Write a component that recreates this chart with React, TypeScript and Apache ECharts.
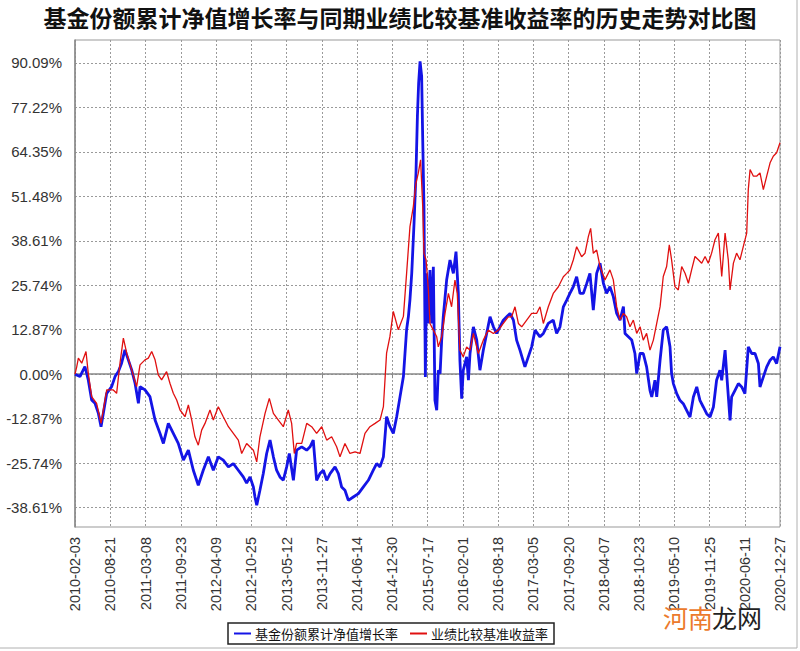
import React, { useEffect, useRef } from 'react';
import * as echarts from 'echarts';

const chartTitle = '基金份额累计净值增长率与同期业绩比较基准收益率的历史走势对比图';
const seriesNames = ['基金份额累计净值增长率', '业绩比较基准收益率'];
const xTickLabels = [
  '2010-02-03', '2010-08-21', '2011-03-08', '2011-09-23', '2012-04-09', '2012-10-25',
  '2013-05-12', '2013-11-27', '2014-06-14', '2014-12-30', '2015-07-17', '2016-02-01',
  '2016-08-18', '2017-03-05', '2017-09-20', '2018-04-07', '2018-10-23', '2019-05-10',
  '2019-11-25', '2020-06-11', '2020-12-27',
];
const tickStepDays = 199;
const yTickValues = [-38.61, -25.74, -12.87, 0, 12.87, 25.74, 38.61, 51.48, 64.35, 77.22, 90.09];
const yMin = -44.2;
const yMax = 96.7;

// [days since 2010-02-03, cumulative return %]
const fundReturn: [number, number][] = [
  [0, 0], [28, -0.68], [56, 2.23], [75, -1.65], [94, -7.45], [113, -8.42], [132, -11.32], [147, -15.19],
  [160, -11.32], [179, -5.52], [207, -3.58], [226, -0.68], [245, 0.77], [263, 3.19], [282, 7.06], [301, 4.16],
  [320, 1.26], [339, -2.61], [358, -8.42], [367, -3.58], [395, -4.55], [423, -6.48], [452, -13.26], [480, -17.13],
  [499, -20.03], [527, -14.23], [555, -17.13], [583, -20.03], [612, -24.87], [640, -21.97], [668, -27.77], [696, -32.13],
  [724, -27.77], [753, -23.9], [781, -27.77], [809, -23.9], [837, -24.87], [866, -26.81], [894, -25.84], [922, -27.77],
  [950, -29.71], [969, -31.5], [988, -29.71], [1007, -32.61], [1016, -35.52], [1026, -37.93], [1044, -33.58], [1063, -28.74],
  [1082, -22.93], [1101, -19.06], [1120, -23.9], [1138, -27.77], [1157, -29.71], [1176, -30.68], [1195, -26.81], [1210, -22.93],
  [1233, -30.68], [1251, -21.97], [1280, -21.0], [1308, -21.97], [1327, -21.0], [1345, -19.06], [1364, -30.68], [1383, -28.74],
  [1402, -27.77], [1421, -30.68], [1440, -28.74], [1468, -26.81], [1487, -28.74], [1505, -32.61], [1524, -33.58], [1543, -36.48],
  [1571, -35.52], [1600, -34.55], [1628, -32.61], [1656, -30.68], [1684, -27.77], [1703, -25.84], [1722, -26.81], [1741, -23.9],
  [1759, -12.29], [1778, -15.19], [1797, -17.13], [1816, -12.29], [1835, -6.48], [1854, -0.68], [1872, 12.87], [1882, 16.62],
  [1891, 21.58], [1901, 29.18], [1914, 43.67], [1925, 58.17], [1933, 74.59], [1940, 84.25], [1948, 90.53], [1957, 86.18],
  [1963, 67.83], [1970, 48.5], [1978, -0.77], [1985, 29.18], [1995, 14.69], [2004, 30.15], [2014, 14.69], [2023, 31.11],
  [2032, -7.54], [2042, -10.43], [2051, 1.16], [2061, 0.19], [2070, 9.86], [2079, 16.62], [2098, 27.25], [2117, 33.04],
  [2136, 29.18], [2151, 35.46], [2164, 23.38], [2173, 4.06], [2183, -7.05], [2192, 1.16], [2211, 5.02], [2221, -1.74],
  [2230, 5.99], [2249, 13.72], [2268, 9.86], [2286, 1.16], [2305, 6.96], [2324, 11.79], [2343, 16.62], [2362, 13.72],
  [2380, 11.79], [2399, 13.72], [2418, 15.65], [2437, 16.62], [2456, 17.58], [2475, 15.65], [2493, 9.86], [2512, 6.96],
  [2540, 2.13], [2559, 5.02], [2578, 7.92], [2597, 12.75], [2625, 10.82], [2644, 11.79], [2672, 14.69], [2700, 15.65],
  [2719, 11.79], [2738, 13.72], [2757, 19.52], [2776, 21.45], [2794, 23.38], [2813, 25.31], [2832, 28.21], [2851, 23.38],
  [2870, 23.38], [2889, 26.28], [2907, 29.18], [2926, 18.55], [2945, 29.18], [2964, 32.13], [2983, 26.32], [3001, 23.42],
  [3020, 25.35], [3039, 22.45], [3058, 17.61], [3077, 15.68], [3096, 19.55], [3105, 11.81], [3124, 10.84], [3143, 9.87],
  [3161, 6.0], [3171, 0.19], [3190, 6.0], [3208, 6.0], [3227, 2.13], [3246, -4.65], [3256, -6.58], [3274, -1.74],
  [3284, -6.58], [3303, 4.06], [3321, 12.77], [3340, 13.74], [3359, 7.94], [3368, 0.19], [3378, -2.71], [3397, -5.61],
  [3415, -7.55], [3434, -8.52], [3453, -10.45], [3472, -12.39], [3491, -6.58], [3510, -3.68], [3528, -7.55], [3547, -9.48],
  [3566, -11.42], [3585, -12.39], [3604, -9.48], [3622, -1.74], [3641, 1.16], [3651, -1.74], [3670, 6.97], [3679, 0.19],
  [3698, -13.35], [3707, -6.58], [3726, -4.65], [3745, -2.71], [3764, -3.68], [3782, -5.61], [3801, 7.94], [3820, 6.0],
  [3839, 6.0], [3858, 3.1], [3867, -3.68], [3886, -0.77], [3905, 2.13], [3924, 4.06], [3942, 5.03], [3961, 3.1],
  [3980, 7.94],
];

const benchmarkReturn: [number, number][] = [
  [0, 0], [10, 2.23], [19, 4.65], [38, 3.19], [62, 6.58], [75, 0.29], [94, -6.48], [122, -8.42],
  [147, -14.23], [179, -4.55], [216, -4.55], [235, -5.52], [254, 3.19], [273, 10.45], [292, 6.1], [320, 1.26],
  [348, -3.58], [367, 2.71], [395, 4.16], [414, 4.65], [433, 6.58], [452, 4.16], [470, -0.19], [489, -1.65],
  [517, 0.77], [536, -2.61], [555, -5.52], [574, -7.45], [593, -10.35], [621, -12.29], [640, -8.9], [659, -13.26],
  [677, -18.1], [696, -20.52], [715, -16.16], [734, -14.23], [762, -10.35], [781, -13.26], [809, -9.39], [837, -12.29],
  [866, -15.19], [894, -17.13], [922, -19.06], [941, -22.93], [969, -20.03], [1007, -21.97], [1026, -25.35], [1044, -18.1],
  [1073, -11.32], [1097, -6.97], [1120, -11.32], [1148, -13.26], [1176, -15.19], [1204, -10.35], [1223, -14.23], [1238, -22.93],
  [1251, -20.03], [1280, -20.03], [1308, -14.23], [1336, -15.19], [1364, -17.13], [1393, -15.19], [1421, -19.06], [1449, -18.1],
  [1477, -21.0], [1496, -23.9], [1524, -20.03], [1552, -22.93], [1581, -22.45], [1609, -22.93], [1637, -17.13], [1665, -15.19],
  [1694, -14.23], [1722, -13.26], [1741, -9.39], [1759, 6.1], [1778, 10.94], [1797, 18.19], [1825, 12.87], [1854, 16.74],
  [1872, 29.18], [1891, 42.71], [1910, 48.5], [1925, 55.27], [1938, 58.17], [1951, 62.03], [1963, 48.5], [1970, 34.98],
  [1982, 33.04], [1995, 24.35], [2004, 14.69], [2023, 12.75], [2042, 10.82], [2051, 7.92], [2070, 10.82], [2089, 17.58],
  [2108, 23.38], [2126, 19.52], [2145, 27.25], [2158, 23.38], [2173, 6.96], [2192, 5.02], [2211, 7.92], [2230, 6.96],
  [2249, 11.79], [2277, 5.99], [2305, 9.86], [2333, 12.75], [2362, 11.79], [2390, 12.75], [2418, 14.69], [2446, 16.62],
  [2465, 16.62], [2484, 19.52], [2503, 14.69], [2522, 13.72], [2550, 15.65], [2578, 17.58], [2606, 17.58], [2625, 19.52],
  [2644, 14.69], [2672, 19.52], [2700, 23.38], [2729, 25.31], [2757, 28.21], [2776, 29.18], [2794, 30.15], [2813, 33.04],
  [2832, 36.9], [2860, 34.01], [2879, 34.98], [2898, 39.81], [2911, 42.22], [2926, 34.98], [2945, 35.94], [2964, 31.16],
  [2992, 27.29], [3020, 30.19], [3039, 27.29], [3058, 19.55], [3077, 15.68], [3096, 17.61], [3114, 16.64], [3133, 13.74],
  [3152, 15.68], [3171, 11.81], [3190, 13.74], [3208, 9.87], [3227, 11.81], [3246, 6.97], [3265, 9.87], [3284, 14.71],
  [3303, 19.55], [3321, 28.26], [3340, 31.16], [3355, 37.45], [3368, 33.1], [3387, 25.35], [3406, 24.39], [3425, 31.16],
  [3444, 29.22], [3463, 26.32], [3481, 30.19], [3500, 34.06], [3519, 33.1], [3538, 32.13], [3557, 34.06], [3575, 32.13],
  [3594, 35.03], [3613, 38.9], [3632, 40.84], [3651, 28.26], [3670, 40.84], [3688, 33.1], [3698, 24.39], [3717, 32.13],
  [3735, 35.03], [3754, 33.1], [3773, 36.97], [3792, 40.84], [3801, 53.42], [3811, 59.22], [3830, 57.29], [3848, 57.29],
  [3867, 58.26], [3886, 53.42], [3905, 57.29], [3924, 61.16], [3942, 63.09], [3961, 64.06], [3980, 66.97],
];

const watermarkParts = ['河南', '龙网'];

export default function App() {
  const ref = useRef<HTMLDivElement>(null);

  useEffect(() => {
    if (!ref.current) return;
    const chart = echarts.init(ref.current, null, { renderer: 'svg' });
    const axisFont = '"Liberation Sans", Arial, sans-serif';
    const cjkFont = '"Noto Sans CJK SC", sans-serif';
    chart.setOption({
      animation: false,
      backgroundColor: '#ffffff',
      title: {
        text: chartTitle,
        left: 'center',
        top: 0,
        textStyle: { fontFamily: cjkFont, fontWeight: 'bold', fontSize: 23, color: '#111' },
      },
      legend: {
        left: 228,
        top: 623,
        orient: 'horizontal',
        data: [
          { name: seriesNames[0], icon: 'rect' },
          { name: seriesNames[1], icon: 'rect' },
        ],
        itemWidth: 17,
        itemHeight: 2,
        itemGap: 12,
        padding: [4, 6],
        borderColor: '#222',
        borderWidth: 1.5,
        backgroundColor: '#fff',
        textStyle: { fontFamily: cjkFont, fontSize: 13, color: '#111', padding: [0, 0, 0, -1] },
      },
      grid: {
        left: 75,
        right: 20,
        top: 40,
        bottom: 124,
        show: true,
        borderColor: '#999',
        borderWidth: 1,
        backgroundColor: '#fff',
      },
      xAxis: {
        type: 'value',
        min: 0,
        max: tickStepDays * (xTickLabels.length - 1),
        interval: tickStepDays,
        offset: 5,
        axisLine: { show: true, lineStyle: { color: '#888', width: 1.5 } },
        axisTick: { show: true, length: 4, lineStyle: { color: '#888' } },
        axisLabel: {
          rotate: 90,
          fontSize: 14.5,
          fontFamily: axisFont,
          color: '#333',
          margin: 5,
          showMinLabel: true,
          showMaxLabel: true,
          formatter: (v: number) => xTickLabels[Math.round(v / tickStepDays)] ?? '',
        },
        splitLine: { show: true, lineStyle: { type: [2, 2], color: '#9a9a9a', width: 1 } },
      },
      yAxis: {
        type: 'value',
        min: yMin,
        max: yMax,
        offset: 4,
        axisLine: { show: true, lineStyle: { color: '#888', width: 1.5 } },
        axisTick: { show: false, customValues: yTickValues },
        axisLabel: {
          customValues: yTickValues,
          fontSize: 15,
          fontFamily: axisFont,
          color: '#333',
          margin: 9,
          formatter: (v: number) => v.toFixed(2) + '%',
        },
        splitLine: { show: true, lineStyle: { type: [2, 2], color: '#9a9a9a', width: 1 } },
      },
      graphic: [
        { type: 'line', shape: { x1: 797, y1: 0, x2: 797, y2: 648 }, style: { stroke: '#b0b0b0', lineWidth: 1 } },
        { type: 'line', shape: { x1: 0, y1: 648, x2: 797, y2: 648 }, style: { stroke: '#b0b0b0', lineWidth: 1 } },
        {
          type: 'text', x: 663, y: 617, z: 100,
          style: { text: watermarkParts[0], fill: '#ec7a2c', font: '25px "Noto Sans CJK SC"', verticalAlign: 'middle' },
        },
        {
          type: 'text', x: 712, y: 617, z: 100,
          style: { text: watermarkParts[1], fill: '#222', font: '25px "Noto Sans CJK SC"', verticalAlign: 'middle' },
        },
      ],
      series: [
        {
          name: seriesNames[0],
          type: 'line',
          data: fundReturn,
          showSymbol: false,
          symbol: 'none',
          color: '#1414e6',
          lineStyle: { color: '#1414e6', width: 2.8 },
        },
        {
          name: seriesNames[1],
          type: 'line',
          data: benchmarkReturn,
          showSymbol: false,
          symbol: 'none',
          color: '#e01010',
          lineStyle: { color: '#e01010', width: 1.3 },
        },
      ],
    });
    return () => chart.dispose();
  }, []);

  return <div ref={ref} style={{ position: 'absolute', left: 0, top: 0, width: 800, height: 651 }} />;
}
